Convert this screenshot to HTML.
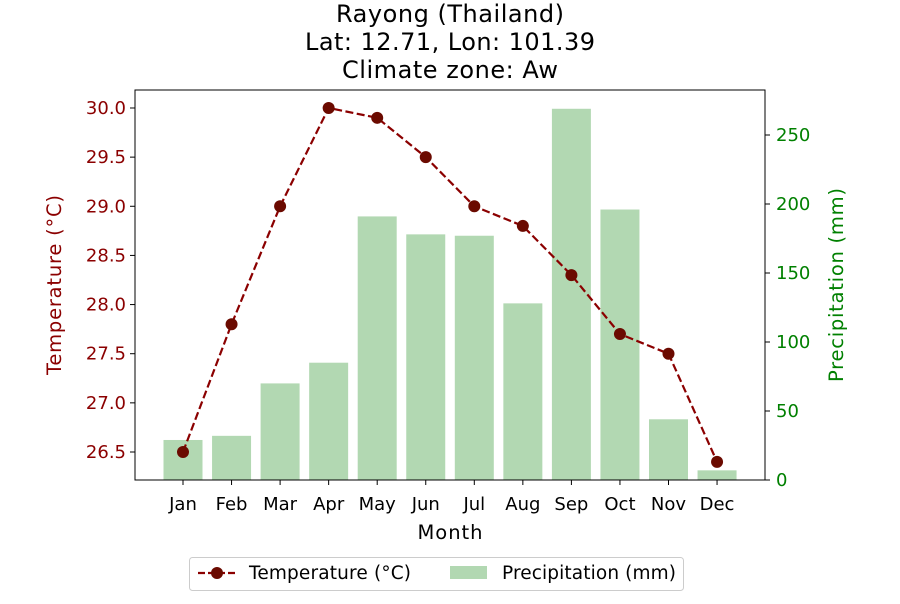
<!DOCTYPE html>
<html><head><meta charset="utf-8"><style>
body{margin:0;background:#fff;font-family:"DejaVu Sans","Liberation Sans",sans-serif;}
svg text{font-family:"DejaVu Sans","Liberation Sans",sans-serif;}
</style></head><body>
<svg id="chart" width="900" height="600" xmlns="http://www.w3.org/2000/svg">
<g id="bars"></g>
<g id="line"></g>
<g id="axes"></g>
<text x="450" y="22" text-anchor="middle" font-size="24" textLength="228">Rayong (Thailand)</text>
<text x="450" y="50" text-anchor="middle" font-size="24" textLength="290">Lat: 12.71, Lon: 101.39</text>
<text x="450" y="78" text-anchor="middle" font-size="24" textLength="216">Climate zone: Aw</text>
<text x="450" y="539" text-anchor="middle" font-size="19.5" textLength="65">Month</text>
<text transform="translate(61,285) rotate(-90)" text-anchor="middle" font-size="19.5" textLength="180" fill="#8b0000">Temperature (°C)</text>
<text transform="translate(843,285) rotate(-90)" text-anchor="middle" font-size="19.5" textLength="194" fill="#008000">Precipitation (mm)</text>
<g>
<rect x="189.5" y="557.5" width="494" height="33" rx="3" fill="#fff" stroke="#ccc"/>
<line x1="198" y1="573" x2="236" y2="573" stroke="#8b0000" stroke-width="2.2" stroke-dasharray="7,3"/>
<circle cx="217" cy="573" r="6" fill="#6b0a00"/>
<text x="249" y="579" font-size="18.5" textLength="162">Temperature (°C)</text>
<rect x="450" y="566" width="37" height="13" fill="#b2d8b2"/>
<text x="502" y="579" font-size="18.5" textLength="174">Precipitation (mm)</text>
</g>
</svg>
<script>
const months=["Jan","Feb","Mar","Apr","May","Jun","Jul","Aug","Sep","Oct","Nov","Dec"];
const temperature=[26.5,27.8,29.0,30.0,29.9,29.5,29.0,28.8,28.3,27.7,27.5,26.4];
const precipitation=[29,32,70,85,191,178,177,128,269,196,44,7];
const tempTicks=[26.5,27.0,27.5,28.0,28.5,29.0,29.5,30.0];
const precipTicks=[0,50,100,150,200,250];
const NS="http://www.w3.org/2000/svg";
const L=135,R=765,T=90,B=480;
const xs=i=>183+48.55*i;
const yT=v=>452-(v-26.5)*98.29;
const yP=v=>480-v*1.38;
function mk(tag,attrs,parent,txt){const e=document.createElementNS(NS,tag);for(const k in attrs)e.setAttribute(k,attrs[k]);if(txt!==undefined)e.textContent=txt;parent.appendChild(e);return e;}
const gb=document.getElementById('bars'),gl=document.getElementById('line'),ga=document.getElementById('axes');
precipitation.forEach((v,i)=>{const r=mk('rect',{x:xs(i)-19.5,y:yP(v),width:39,height:B-yP(v),fill:'#b2d8b2'},gb);

});
mk('polyline',{points:temperature.map((v,i)=>xs(i)+','+yT(v)).join(' '),fill:'none',stroke:'#8b0000','stroke-width':2.2,'stroke-dasharray':'8,3.5'},gl);
temperature.forEach((v,i)=>{const c=mk('circle',{cx:xs(i),cy:yT(v),r:6,fill:'#6b0a00'},gl);

});
mk('rect',{x:L,y:T,width:R-L,height:B-T,fill:'none',stroke:'#000','stroke-width':1},ga);
months.forEach((m,i)=>{mk('line',{x1:xs(i),y1:B,x2:xs(i),y2:B+5,stroke:'#000'},ga);
const t=mk('text',{x:xs(i),y:B+30,'text-anchor':'middle','font-size':18},ga,m);

});
tempTicks.forEach(v=>{mk('line',{x1:L-5,y1:yT(v),x2:L,y2:yT(v),stroke:'#000'},ga);
const t=mk('text',{x:L-9,y:yT(v)+6,'text-anchor':'end','font-size':18,fill:'#8b0000'},ga,v.toFixed(1));

});
precipTicks.forEach(v=>{mk('line',{x1:R,y1:yP(v),x2:R+5,y2:yP(v),stroke:'#000'},ga);
const t=mk('text',{x:R+11,y:yP(v)+6,'font-size':18,fill:'#008000'},ga,String(v));

});
</script>
</body></html>
